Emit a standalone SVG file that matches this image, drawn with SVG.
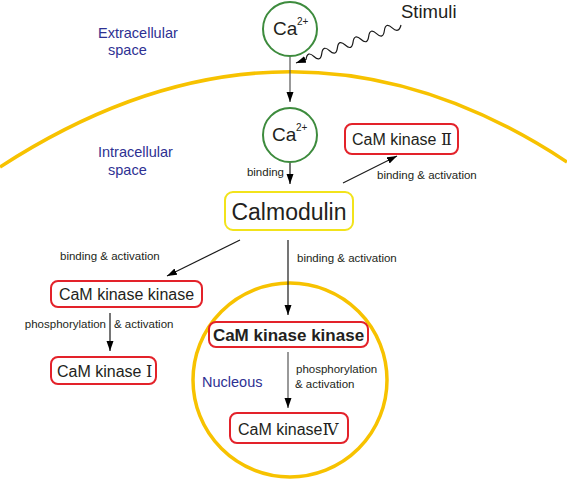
<svg xmlns="http://www.w3.org/2000/svg" width="567" height="480" viewBox="0 0 567 480">
<style>
text{font-family:"Liberation Sans",Arial,sans-serif;fill:#231f20}
.region{fill:#2e3192;font-size:14.5px}
.small{font-size:11.5px}
.box{fill:#fff;stroke:#e3222a;stroke-width:2}
.bt{font-size:16px}
.rn{font-family:"DejaVu Serif","Liberation Serif",serif}
.ca{fill:#fff;stroke:#3d8b3d;stroke-width:2}
.memb{fill:none;stroke:#f7c200;stroke-width:3.5}
.arr{fill:none;stroke:#1a1a1a;stroke-width:1.2;marker-end:url(#ah)}
</style>
<defs>
<marker id="ah" markerUnits="userSpaceOnUse" markerWidth="11" markerHeight="8" refX="10" refY="3.5" orient="auto">
<path d="M0,0 L10,3.5 L0,7 z" fill="#000"/>
</marker>
</defs>
<g id="membrane"><path class="memb" d="M0,167 Q290,-21 567,162"/></g>
<g id="nucleus"><circle cx="290" cy="380" r="97" class="memb" stroke-width="3"/><text x="202" y="387" class="region">Nucleous</text></g>
<g id="labels">
<text x="98" y="38" class="region">Extracellular</text>
<text x="108" y="55" class="region">space</text>
<text x="98" y="157" class="region">Intracellular</text>
<text x="108" y="175" class="region">space</text>
</g>
<g id="connectors">
<line class="arr" x1="290" y1="57" x2="290" y2="102" style="stroke:#555"/>
<path class="arr" d="M401,25 Q398.83,33.94 392.18,27.86 T384.35,30.72 T376.53,33.57 T368.70,36.43 T360.88,39.29 T353.05,42.15 T345.23,45.01 T337.40,47.86 T329.58,50.72 T321.75,53.58 T313.93,56.44 T306.10,59.30 L296,63"/>
<line class="arr" x1="290" y1="163" x2="290" y2="184"/>
<line class="arr" x1="343" y1="183" x2="397" y2="156"/>
<line class="arr" x1="240" y1="240" x2="167" y2="276"/>
<line class="arr" x1="288" y1="240" x2="288" y2="315"/>
<line class="arr" x1="110" y1="313" x2="110" y2="351"/>
<line class="arr" x1="288" y1="352" x2="288" y2="408" style="stroke:#555"/>
<text x="284" y="176" class="small" text-anchor="end">binding</text>
<text x="377" y="179" class="small">binding &amp; activation</text>
<text x="60" y="260" class="small">binding &amp; activation</text>
<text x="297" y="262" class="small">binding &amp; activation</text>
<text x="106" y="328" class="small" text-anchor="end">phosphorylation</text>
<text x="114" y="328" class="small">&amp; activation</text>
<text x="296" y="373" class="small">phosphorylation</text>
<text x="295" y="388" class="small">&amp; activation</text>
</g>
<g id="stimuli"><text x="401" y="18" font-size="18.5">Stimuli</text></g>
<g id="ca-out"><circle cx="290" cy="29" r="27" class="ca"/><text x="273" y="35" font-size="19">Ca</text><text x="297" y="25" font-size="10">2+</text></g>
<g id="ca-in"><circle cx="290" cy="135" r="27" class="ca"/><text x="272" y="141" font-size="19">Ca</text><text x="296" y="131" font-size="10">2+</text></g>
<g id="calmodulin"><rect x="225" y="192" width="128" height="38" rx="8" fill="#fff" stroke="#f2e31b" stroke-width="2"/><text x="289" y="220" font-size="23" text-anchor="middle">Calmodulin</text></g>
<g id="camk2"><rect x="345" y="124" width="113" height="30" rx="7" class="box"/><text x="352" y="145" class="bt">CaM kinase <tspan class="rn">Ⅱ</tspan></text></g>
<g id="camkk-cyto"><rect x="51" y="281" width="151" height="26" rx="7" class="box"/><text x="126.5" y="300" class="bt" text-anchor="middle">CaM kinase kinase</text></g>
<g id="camk1"><rect x="51" y="357" width="105" height="27" rx="7" class="box"/><text x="57" y="377" class="bt">CaM kinase <tspan class="rn">Ⅰ</tspan></text></g>
<g id="camkk-nuc"><rect x="209" y="322" width="159" height="25" rx="7" class="box"/><text x="288.5" y="341" font-size="17" font-weight="bold" text-anchor="middle" fill="#000">CaM kinase kinase</text></g>
<g id="camk4"><rect x="230" y="413" width="118" height="30" rx="7" class="box"/><text x="238" y="435" class="bt">CaM kinase<tspan class="rn">Ⅳ</tspan></text></g>
</svg>
